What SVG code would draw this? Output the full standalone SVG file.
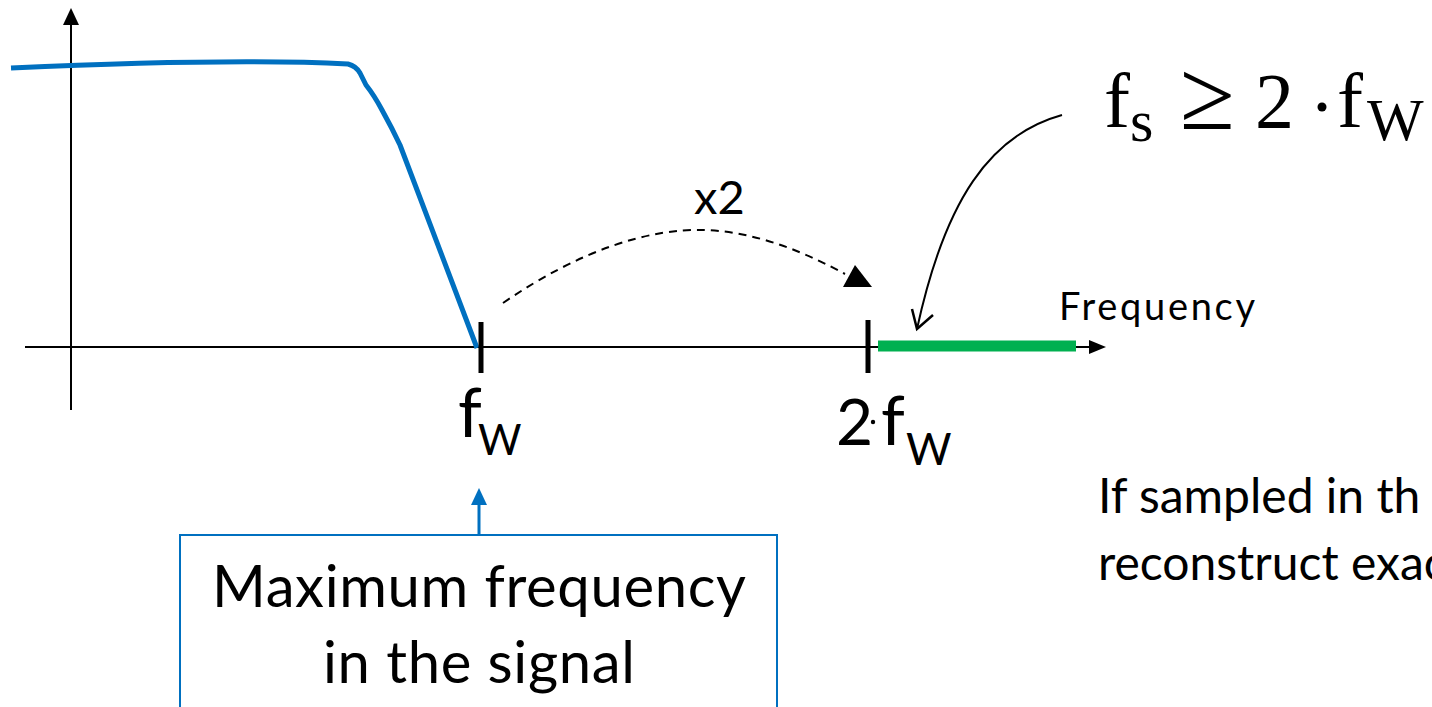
<svg xmlns="http://www.w3.org/2000/svg" width="1432" height="707" viewBox="0 0 1432 707">
<style>
.lbl{font-family:Lato,"Liberation Sans",sans-serif;fill:#000}
.math{font-family:"Liberation Serif","DejaVu Serif",serif;fill:#000}
.ax{stroke:#000;stroke-width:2;fill:none}
.tick{stroke:#000;stroke-width:5}
</style>
<rect width="1432" height="707" fill="#fff"/>
<g id="axes">
<line class="ax" x1="71" y1="410" x2="71" y2="22"/>
<polygon points="71,8 63,25 79,25" fill="#000"/>
<line class="ax" x1="25" y1="347" x2="1092" y2="347"/>
<polygon points="1106,347 1089,340 1089,354" fill="#000"/>
</g>
<g id="spectrum">
<path d="M11,68 C100,64 250,59 348,64 Q356,66 360,73 L366,85 Q374,95 382,110 Q392,128 400,145 L477,348" fill="none" stroke="#0070c0" stroke-width="5" stroke-linejoin="round"/>
</g>
<g id="band">
<line x1="878" y1="346" x2="1076" y2="346" stroke="#00b050" stroke-width="11"/>
</g>
<g id="tick-fw">
<line class="tick" x1="481" y1="322" x2="481" y2="373"/>
<text class="lbl" x="458" y="437" font-size="68">f</text>
<text class="lbl" x="478" y="455" font-size="42">W</text>
</g>
<g id="tick-2fw">
<line class="tick" x1="868" y1="320" x2="868" y2="373"/>
<text class="lbl" x="836" y="445" font-size="64">2</text>
<circle cx="873" cy="422" r="2.2" fill="#000"/>
<text class="lbl" x="881" y="445" font-size="68">f</text>
<text class="lbl" x="906" y="465" font-size="44">W</text>
</g>
<g id="x2-label">
<text class="lbl" x="694" y="214" font-size="47">x2</text>
</g>
<g id="frequency-label">
<text class="lbl" x="1059" y="320" font-size="38" textLength="196">Frequency</text>
</g>
<g id="formula">
<text class="math" x="1104" y="127" font-size="78">f</text>
<text class="math" x="1130" y="141" font-size="60">s</text>
<text class="math" x="1180" y="129" font-size="100">≥</text>
<text class="math" x="1255" y="127" font-size="78">2</text>
<circle cx="1322" cy="107" r="4.5" fill="#000"/>
<text class="math" x="1337" y="127" font-size="78">f</text>
<text class="math" x="1367" y="140" font-size="60">W</text>
</g>
<g id="max-box">
<rect x="180" y="535" width="597" height="200" fill="#fff" stroke="#0070c0" stroke-width="2"/>
<text class="lbl" x="479" y="607" font-size="58" text-anchor="middle" textLength="534">Maximum frequency</text>
<text class="lbl" x="479" y="683" font-size="58" text-anchor="middle" textLength="312">in the signal</text>
</g>
<g id="note">
<text class="lbl" x="1098" y="513" font-size="48">If sampled in th</text>
<text class="lbl" x="1098" y="580" font-size="48">reconstruct exac</text>
</g>
<g id="connectors">
<path d="M503,303 C580,250 650,228 705,230 C760,232 810,255 845,274" fill="none" stroke="#000" stroke-width="2" stroke-dasharray="8,6"/>
<polygon points="855,265 843,287 872,287" fill="#000"/>
<path d="M1062,115 C990,135 945,200 917,329" fill="none" stroke="#000" stroke-width="2"/>
<polyline points="912,309 917,329 933,315" fill="none" stroke="#000" stroke-width="2.5"/>
<line x1="479" y1="534" x2="479" y2="502" stroke="#0070c0" stroke-width="3"/>
<polygon points="479,488 471,505 487,505" fill="#0070c0"/>
</g>
</svg>
